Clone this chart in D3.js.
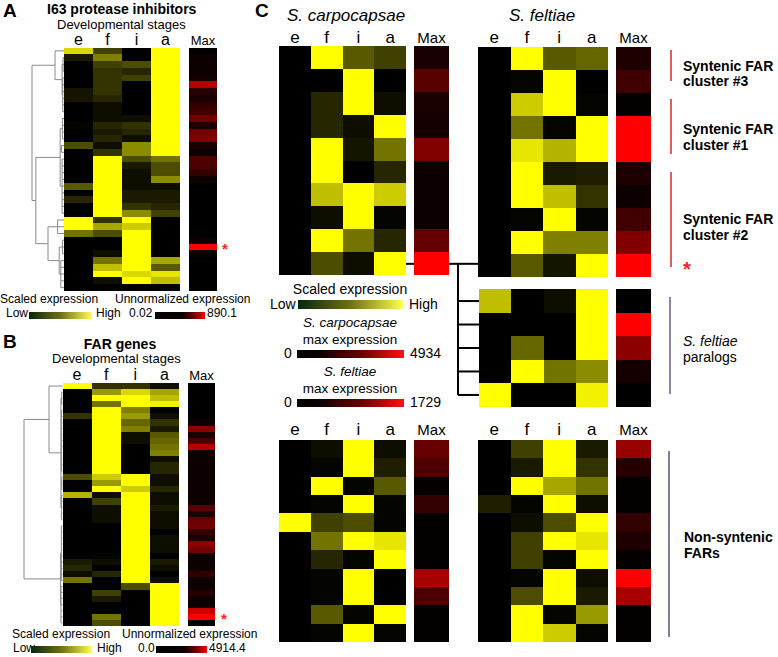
<!DOCTYPE html>
<html>
<head>
<meta charset="utf-8">
<script src="https://cdn.jsdelivr.net/npm/d3@7"></script>
<style>
body { margin: 0; background: #fff; }
text { font-family: "Liberation Sans", Arial, sans-serif; fill: #000; }
</style>
</head>
<body>
<svg id="fig" width="778" height="657"></svg>
<script>
// stages of development (columns)
var stages = ["e", "f", "i", "a"];

// panel A: I63 protease inhibitors, scaled expression e/f/i/a
var aRows = [
  [0.85,0.25,0,1],[0.1,0.5,0,1],[0,0.25,0.3,1],[0,0.2,0.15,1],[0,0.2,0.25,1],
  [0,0.2,0,1],[0.08,0.2,0,1],[0.08,0.15,0,1],[0,0.05,0,1],[0,0.05,0,1],
  [0,0.05,0.05,1],[0.02,0.15,0.2,1],[0,0.1,0.15,1],[0,0.15,0.05,1],[0.3,0.05,0.55,1],
  [0,0.2,0.55,1],[0,1,0.3,0.45],[0,1,0.1,0.3],[0,1,0.05,0.3],[0,1,0.05,0.55],
  [0.35,1,0.05,0.05],[0,1,0.1,0.1],[0.15,1,0.1,0.1],[0,1,0.2,0.15],[0,1,0.55,0.25],
  [1,0.2,1,0],[1,0.65,0.8,0],[0.45,0.3,1,0],[0,0,1,0],[0,0,1,0],
  [0,0.05,1,0],[0,0.45,1,0.65],[0,0.75,1,0.35],[0,1,0.85,0.9],[0,0.05,1,0.75],
  [0,0,0,0]
];
var aMax = [0,0.05,0.05,0.05,0.08,0.7,0.15,0.1,0.2,0.25,0.45,0.1,0.45,0.5,0.1,0.05,0.3,0.3,0.2,0.05,
  0,0,0,0,0,0,0,0,0.05,1,0.05,0,0,0,0,0];

// panel B: FAR genes
var bRows = [
  [1,0.2,0.2,0.05],[0,0.6,0.85,0.65],[0,1,1,0.75],[0,0.45,1,0.95],[0,1,0.5,0],
  [0.2,1,0.6,0.05],[0,1,0.4,0.2],[0,1,0.5,0.1],[0,1,0.05,0.35],[0,1,0.05,0.4],
  [0,1,0,0.45],[0,1,0,0.5],[0,1,0,0.05],[0,1,0,0.15],[0,1,0,0.15],
  [0.3,0.8,1,0.05],[0,0.6,1,0.05],[0,1,0.8,0.15],[0.7,0.05,1,0.05],[0,0.25,1,0.05],
  [0,0.05,1,0.1],[0,0.05,1,0.05],[0,0.05,1,0.05],[0,0,1,0.05],[0,0,1,0],
  [0,0,1,0.05],[0,0,1,0.05],[0,0,1,0.05],[0,0.02,1,0],[0.1,0.05,1,0.1],
  [0.15,0,1,0.05],[0.05,0.15,1,0],[0.45,0,1,0.05],[0,0,0.3,1],[0,0.25,0,1],
  [0,0.1,0,1],[0,0,0,1],[0,0,0,1],[0,0.45,0,1],[0,0.3,0,1]
];
var bMax = [0,0,0,0,0,0,0.05,0.55,0.1,0.3,0.7,0.05,0.05,0.05,0.05,0.05,0.05,0.05,0.05,0.05,
  0.35,0.1,0.4,0.45,0.2,0.1,0.55,0.45,0.05,0.05,0.05,0.2,0.05,0.05,0.15,0.05,0.05,0.8,1,0];

// panel C: syntenic FARs, S. carpocapsae and S. feltiae
var cCarpTop = [
  [0,1,0.35,0.25],[0,0,1,0],[0,0.15,1,0.05],[0,0.15,0.05,1],[0,1,0.08,0.45],
  [0,1,0,0.15],[0,0.75,1,0.8],[0,0.05,1,0.02],[0,1,0.45,0.15],[0,0.3,0.05,1]
];
var cCarpTopMax = [0.1,0.35,0.1,0.08,0.5,0.05,0.05,0.05,0.4,1];
var cFeltTop = [
  [0,1,0.35,0.4],[0,0.02,1,0],[0,0.8,1,0.02],[0,0.45,0.02,1],[0,0.9,0.7,1],
  [0,1,0.1,0.12],[0,1,0.75,0.2],[0,0.02,1,0.02],[0,1,0.5,0.5],[0,0.35,0.08,1]
];
var cFeltTopMax = [0.12,0.25,0.02,1,1,0.12,0.05,0.25,0.5,1];
var cPara = [[0.75,0,0.05,1],[0,0,0,1],[0,0.4,0,1],[0,1,0.45,0.55],[1,0,0,0.95]];
var cParaMax = [0,1,0.55,0.08,0];
var cCarpBot = [
  [0,0.05,1,0.05],[0,0.02,1,0.12],[0,1,0.02,0.35],[0,0.02,1,0.02],[1,0.25,0.3,0.02],
  [0,0.45,1,0.9],[0,0.15,0.02,1],[0,0.02,1,0],[0,0.02,1,0],[0,0.35,0.02,1],[0,0.02,1,0.02]
];
var cCarpBotMax = [0.4,0.3,0.02,0.2,0.02,0.02,0.02,0.65,0.3,0.02,0.02];
var cFeltBot = [
  [0,0.25,1,0.1],[0,0.1,1,0.2],[0,1,0.65,0.45],[0.12,0.02,1,0.05],[0,0.05,0.3,1],
  [0,0.25,1,0.9],[0,0.25,0.02,1],[0,0.02,1,0.05],[0,0.3,1,0.1],[0,1,0.02,0.6],[0,1,0.8,0.02]
];
var cFeltBotMax = [0.6,0.15,0.02,0.02,0.2,0.12,0.02,1,0.65,0.02,0.02];

// dendrograms: [height, child, child, ...], leaves are row indices
var treeA = [1,
  [0.28, 0, [0.06, [0.03,1,2,3], [0.04,4,5,6,7,8,9]]],
  [0.88,
    [0.12, [0.05,10,11,12,13], [0.08,14,15], [0.06,16,17,18,19,20,21,22,23,24]],
    [0.5, [0.2,25,26,27], [0.15, [0.05,28,29,30], [0.1,31,32,33,34,35]]]
  ]
];
var treeB = [1,
  [0.35, 0, [0.04, [0.02,1,2,3], [0.03,4,5,6,7,8,9,10,11,12,13,14], [0.02,15,16,17], [0.03,18,19,20,21,22]]],
  [0.05, [0.03,23,24,25,26,27,28,29,30,31,32], [0.04,33,34,35,36,37,38,39]]
];

// legend ticks
var legA = ["0.02", "890.1"];
var legB = ["0.0", "4914.4"];
var legCarp = ["0", "4934"];
var legFelt = ["0", "1729"];

var svg = d3.select("#fig");
var yellow = d3.interpolateRgb("#000000", "#ffff00");
var red = d3.interpolateRgb("#000000", "#ff0000");

function cells(g, xs, ys, key, y, color) {
  var x0 = Math.round(xs), x1 = Math.round(xs + key);
  var y0 = Math.round(y[0]), y1 = Math.round(y[1]);
  g.append("rect").attr("x", x0).attr("y", y0)
    .attr("width", x1 - x0).attr("height", y1 - y0).attr("fill", color);
}

function heatmap(rows, maxVals, box, labelY, labelSize, maxSize) {
  var x = d3.scaleBand().domain(stages).range([box.x0, box.x1]);
  var y = d3.scaleBand().domain(d3.range(rows.length)).range([box.y0, box.y1]);
  var g = svg.append("g").attr("shape-rendering", "crispEdges");
  rows.forEach(function (r, i) {
    stages.forEach(function (s, j) {
      cells(g, x(s), 0, x.bandwidth(), [y(i), y(i) + y.bandwidth()], yellow(r[j]));
    });
    cells(g, box.m0, 0, box.m1 - box.m0, [y(i), y(i) + y.bandwidth()], red(maxVals[i]));
  });
  if (labelY) {
    svg.selectAll(null).data(stages).enter().append("text")
      .attr("x", function (d) { return x(d) + x.bandwidth() / 2; })
      .attr("y", labelY)
      .attr("text-anchor", "middle")
      .style("font-size", labelSize + "px")
      .text(function (d) { return d; });
    svg.append("text").attr("x", (box.m0 + box.m1) / 2).attr("y", labelY)
      .attr("text-anchor", "middle").style("font-size", maxSize + "px").text("Max");
  }
  return y;
}

function dendro(tree, y, x0, xRoot) {
  var hx = d3.scaleLinear().domain([0, 1]).range([x0, xRoot]);
  var g = svg.append("g").attr("stroke", "#8a8a8a").attr("stroke-width", 1).attr("fill", "none");
  function walk(node) {
    if (typeof node === "number") return { x: x0, y: y(node) + y.bandwidth() / 2 };
    var nx = hx(node[0]);
    var kids = node.slice(1).map(walk);
    kids.forEach(function (k) {
      g.append("line").attr("x1", k.x).attr("x2", nx).attr("y1", k.y).attr("y2", k.y);
    });
    g.append("line").attr("x1", nx).attr("x2", nx)
      .attr("y1", kids[0].y).attr("y2", kids[kids.length - 1].y);
    return { x: nx, y: (kids[0].y + kids[kids.length - 1].y) / 2 };
  }
  walk(tree);
}

function txt(x, y, s, size, opts) {
  opts = opts || {};
  return svg.append("text").attr("x", x).attr("y", y)
    .attr("text-anchor", opts.anchor || "start")
    .style("font-size", size + "px")
    .style("font-weight", opts.bold ? "bold" : "normal")
    .style("font-style", opts.italic ? "italic" : "normal")
    .style("fill", opts.fill || "#000")
    .text(s);
}

var defs = svg.append("defs");
function gradient(id, stops) {
  var lg = defs.append("linearGradient").attr("id", id);
  stops.forEach(function (s) {
    lg.append("stop").attr("offset", s[0]).attr("stop-color", s[1]);
  });
}
gradient("gYel", [[0, "#06280b"], [0.5, "#6f6f18"], [1, "#ffff4d"]]);
gradient("gRedA", [[0, "#000"], [0.55, "#0a0000"], [0.8, "#7a0000"], [1, "#ff0000"]]);
gradient("gRedC", [[0, "#000"], [0.2, "#0a0000"], [0.6, "#6a0000"], [1, "#ff1010"]]);

// ---------- panel A ----------
txt(3, 17, "A", 19, { bold: true });
txt(47, 14, "I63 protease inhibitors", 14, { bold: true });
txt(57, 29, "Developmental stages", 13);
var yA = heatmap(aRows, aMax, { x0: 64, x1: 180, y0: 47.5, y1: 291, m0: 189, m1: 217 }, 45, 16, 13);
dendro(treeA, yA, 64, 32);
txt(222, yA(29) + yA.bandwidth() / 2 + 7, "*", 15, { bold: true, fill: "#ff2020" });
txt(0, 303, "Scaled expression", 12);
txt(115, 303, "Unnormalized expression", 12);
txt(6, 317, "Low", 12);
svg.append("rect").attr("x", 29).attr("y", 312).attr("width", 63).attr("height", 7).attr("fill", "url(#gYel)");
txt(96, 317, "High", 12);
txt(129, 317, legA[0], 12);
svg.append("rect").attr("x", 155).attr("y", 312).attr("width", 50).attr("height", 7).attr("fill", "url(#gRedA)");
txt(207, 317, legA[1], 12);

// ---------- panel B ----------
txt(3, 348, "B", 19, { bold: true });
txt(120, 349, "FAR genes", 14, { bold: true, anchor: "middle" });
txt(52, 363, "Developmental stages", 13);
var yB = heatmap(bRows, bMax, { x0: 62.5, x1: 179, y0: 383, y1: 626, m0: 188, m1: 215 }, 380, 16, 13);
dendro(treeB, yB, 62.5, 24);
txt(221, yB(38) + yB.bandwidth() / 2 + 7, "*", 15, { bold: true, fill: "#ff2020" });
txt(12, 638, "Scaled expression", 12);
txt(122, 638, "Unnormalized expression", 12);
txt(13, 652, "Low", 12);
svg.append("rect").attr("x", 31).attr("y", 646).attr("width", 61).attr("height", 7).attr("fill", "url(#gYel)");
txt(97, 652, "High", 12);
txt(138, 652, legB[0], 12);
svg.append("rect").attr("x", 156).attr("y", 646).attr("width", 51).attr("height", 7).attr("fill", "url(#gRedA)");
txt(209, 652, legB[1], 12);

// ---------- panel C ----------
txt(255, 17, "C", 19, { bold: true });
txt(287, 21, "S. carpocapsae", 17, { italic: true });
txt(509, 21, "S. feltiae", 17, { italic: true });

var yCT = heatmap(cCarpTop, cCarpTopMax, { x0: 279, x1: 406, y0: 45.7, y1: 275.3, m0: 414, m1: 449 }, 43, 17, 15);
var yFT = heatmap(cFeltTop, cFeltTopMax, { x0: 478, x1: 608, y0: 46.5, y1: 276.5, m0: 616, m1: 651 }, 43, 17, 15);
var yP = heatmap(cPara, cParaMax, { x0: 479, x1: 608, y0: 289.3, y1: 406.7, m0: 616, m1: 651 }, null);
heatmap(cCarpBot, cCarpBotMax, { x0: 279, x1: 406, y0: 440, y1: 642, m0: 414, m1: 449 }, 435, 17, 15);
heatmap(cFeltBot, cFeltBotMax, { x0: 478, x1: 608, y0: 440, y1: 642, m0: 616, m1: 651 }, 435, 17, 15);

// link between the last syntenic row and the S. feltiae paralogs
var tg = svg.append("g").attr("stroke", "#000").attr("stroke-width", 2).attr("fill", "none");
var yTop = yCT(9) + yCT.bandwidth() / 2;
tg.append("line").attr("x1", 406).attr("x2", 414).attr("y1", yTop).attr("y2", yTop);
tg.append("line").attr("x1", 449).attr("x2", 478).attr("y1", yTop).attr("y2", yTop);
var pc = cPara.map(function (d, i) { return yP(i) + yP.bandwidth() / 2; });
tg.append("line").attr("x1", 458).attr("x2", 458).attr("y1", yTop).attr("y2", pc[pc.length - 1]);
pc.forEach(function (yy) {
  tg.append("line").attr("x1", 458).attr("x2", 479).attr("y1", yy).attr("y2", yy);
});

// C legend
txt(350, 294, "Scaled expression", 14, { anchor: "middle" });
txt(270, 309, "Low", 14);
svg.append("rect").attr("x", 298).attr("y", 300).attr("width", 105).attr("height", 9).attr("fill", "url(#gYel)");
txt(409, 309, "High", 14);
txt(350, 327, "S. carpocapsae", 13.5, { italic: true, anchor: "middle" });
txt(350, 344, "max expression", 13.5, { anchor: "middle" });
txt(284, 358, legCarp[0], 14);
svg.append("rect").attr("x", 297).attr("y", 350).attr("width", 107).attr("height", 8).attr("fill", "url(#gRedC)");
txt(410, 358, legCarp[1], 14);
txt(350, 376, "S. feltiae", 13.5, { italic: true, anchor: "middle" });
txt(350, 393, "max expression", 13.5, { anchor: "middle" });
txt(284, 407, legFelt[0], 14);
svg.append("rect").attr("x", 297).attr("y", 399).attr("width", 107).attr("height", 8).attr("fill", "url(#gRedC)");
txt(410, 407, legFelt[1], 14);

// group brackets on the right
var br = svg.append("g").attr("stroke-width", 1.5);
br.append("line").attr("x1", 671).attr("x2", 671).attr("y1", 50).attr("y2", 81).attr("stroke", "#d42a2a");
br.append("line").attr("x1", 671).attr("x2", 671).attr("y1", 99).attr("y2", 154).attr("stroke", "#d42a2a");
br.append("line").attr("x1", 671).attr("x2", 671).attr("y1", 172).attr("y2", 267).attr("stroke", "#d42a2a");
br.append("line").attr("x1", 670).attr("x2", 670).attr("y1", 297).attr("y2", 394).attr("stroke", "#6a5a86");
br.append("line").attr("x1", 669).attr("x2", 669).attr("y1", 451).attr("y2", 637).attr("stroke", "#5e4c80");

txt(683, 71, "Syntenic FAR", 14, { bold: true });
txt(683, 86, "cluster #3", 14, { bold: true });
txt(683, 134, "Syntenic FAR", 14, { bold: true });
txt(683, 150, "cluster #1", 14, { bold: true });
txt(683, 224, "Syntenic FAR", 14, { bold: true });
txt(683, 240, "cluster #2", 14, { bold: true });
txt(683, 276, "*", 20, { bold: true, fill: "#ff2020" });
txt(683, 346, "S. feltiae", 14, { italic: true });
txt(683, 362, "paralogs", 14);
txt(684, 542, "Non-syntenic", 14, { bold: true });
txt(684, 558, "FARs", 14, { bold: true });
</script>
</body>
</html>
